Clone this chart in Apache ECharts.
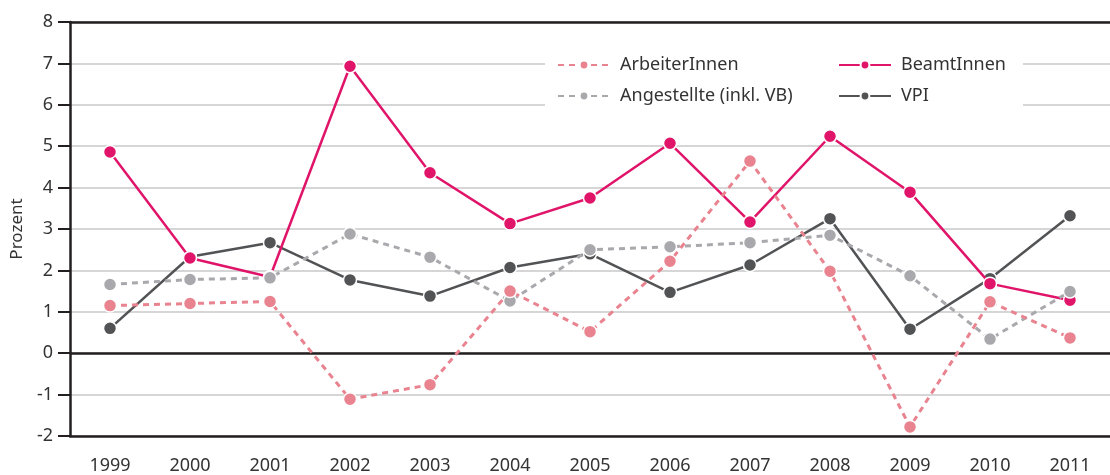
<!DOCTYPE html>
<html>
<head>
<meta charset="utf-8">
<script src="https://cdn.jsdelivr.net/npm/echarts@6/dist/echarts.min.js"></script>
<style>
  html, body { margin: 0; padding: 0; background: #fff; }
  #chart { width: 1110px; height: 475px; }
</style>
</head>
<body>
<div id="chart"></div>
<script>
const years = ['1999', '2000', '2001', '2002', '2003', '2004', '2005', '2006', '2007', '2008', '2009', '2010', '2011'];

const arbeiterInnen = [1.15, 1.2, 1.25, -1.11, -0.76, 1.5, 0.52, 2.22, 4.64, 1.98, -1.78, 1.24, 0.37];
const angestellte = [1.66, 1.78, 1.82, 2.88, 2.32, 1.26, 2.5, 2.57, 2.67, 2.85, 1.87, 0.34, 1.49];
const beamtInnen = [4.86, 2.3, 1.84, 6.93, 4.36, 3.13, 3.75, 5.07, 3.17, 5.24, 3.89, 1.68, 1.28];
const vpi = [0.6, 2.33, 2.67, 1.77, 1.38, 2.07, 2.4, 1.47, 2.13, 3.25, 0.58, 1.8, 3.32];

const FONT = '"Noto Sans", sans-serif';
const AXIS_DARK = '#231f20';

/* gemeinsame Linien-Optionen */
function lineSeries(name, data, color, dashed, z) {
  return {
    name,
    type: 'line',
    data,
    z,
    symbol: 'circle',
    symbolSize: 13,
    lineStyle: {
      color,
      width: dashed ? 3 : 2.5,
      type: dashed ? [6, 5] : 'solid',
    },
    itemStyle: {
      color,
      borderColor: '#fff',
      borderWidth: 1.5,
    },
    emphasis: { disabled: true },
  };
}

const legendBase = {
  orient: 'vertical',
  top: 52,
  itemWidth: 52,
  itemHeight: 11,
  itemGap: 13,
  padding: [4, 10, 4, 10],
  z: 12,
  textStyle: { fontFamily: FONT, fontSize: 18, color: '#333', padding: [0, 0, 0, 5] },
};

const chart = echarts.init(document.getElementById('chart'));
chart.setOption({
  animation: false,
  grid: { left: 70, right: -10, top: 22, bottom: 37, containLabel: false },
  /* weisser Kasten hinter der Legende */
  graphic: [{
    type: 'rect',
    z: 11,
    shape: { x: 545, y: 46, width: 478, height: 66 },
    style: { fill: '#fff' },
  }],
  legend: [
    { ...legendBase, left: 547, data: ['ArbeiterInnen', 'Angestellte (inkl. VB)'] },
    { ...legendBase, left: 828, data: ['BeamtInnen', 'VPI'] },
  ],
  xAxis: [
    {
      type: 'category',
      data: years,
      boundaryGap: true,
      axisLine: { onZero: false, lineStyle: { color: AXIS_DARK, width: 2.5 } },
      axisTick: { alignWithLabel: true, length: 11, lineStyle: { color: AXIS_DARK, width: 2 } },
      axisLabel: { margin: 21, fontFamily: FONT, fontSize: 18, color: '#333' },
    },
    {
      type: 'category',
      data: years,
      position: 'top',
      axisLine: { onZero: false, lineStyle: { color: AXIS_DARK, width: 2.5 } },
      axisTick: { show: false },
      axisLabel: { show: false },
    },
  ],
  yAxis: {
    type: 'value',
    min: -2,
    max: 8,
    interval: 1,
    name: 'Prozent',
    nameLocation: 'middle',
    nameGap: 43,
    nameTextStyle: { fontFamily: FONT, fontSize: 17, color: '#333' },
    axisLine: { show: true, lineStyle: { color: AXIS_DARK, width: 2.5 } },
    axisTick: { show: true, length: 12, lineStyle: { color: AXIS_DARK, width: 2 } },
    axisLabel: { margin: 17, fontFamily: FONT, fontSize: 18, color: '#333' },
    splitLine: { lineStyle: { color: '#c8c8c8', width: 1.5 } },
  },
  series: [
    {
      ...lineSeries('VPI', vpi, '#525355', false, 3),
      markLine: {
        silent: true,
        symbol: 'none',
        label: { show: false },
        lineStyle: { color: AXIS_DARK, width: 2.5, type: 'solid' },
        data: [{ yAxis: 0 }],
        z: 1,
      },
    },
    lineSeries('BeamtInnen', beamtInnen, '#e0156a', false, 4),
    lineSeries('Angestellte (inkl. VB)', angestellte, '#a9a9ad', true, 5),
    lineSeries('ArbeiterInnen', arbeiterInnen, '#e9838f', true, 6),
  ],
});
</script>
</body>
</html>
